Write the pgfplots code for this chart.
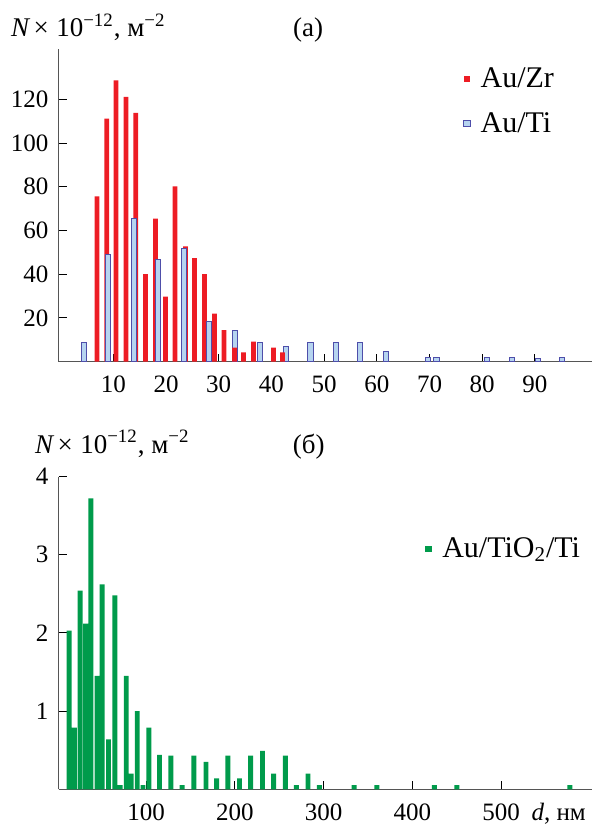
\documentclass[border=0pt]{standalone}
\usepackage{pgfplots}
\pgfplotsset{compat=1.18}
\usepackage{fontspec}
\setmainfont{Liberation Serif}

\definecolor{zrred}{RGB}{237,28,36}
\definecolor{tifill}{RGB}{182,212,240}
\definecolor{tidraw}{RGB}{78,78,170}
\definecolor{tigreen}{RGB}{0,155,75}
\definecolor{axgray}{RGB}{85,85,85}

\newcommand{\tickfont}{\fontsize{12.5}{14}\selectfont}
\newcommand{\labfont}{\fontsize{13.5}{16}\selectfont}
\newcommand{\legfont}{\fontsize{15}{17}\selectfont}

% d (nm) vs N
\pgfplotstableread{
x     y
6.9   75.6
8.75  111.2
10.5  128.7
12.4  121.1
14.25 113.8
16.1  40.0
18.0  65.4
19.9  29.8
21.7  80.2
23.7  52.7
25.4  47.4
27.3  40.0
29.2  22.0
31.0  14.4
34.7  4.3
36.6  9.2
40.4  6.4
}\zrdata
% Zr bars that sit in front of the Ti bars
\pgfplotstableread{
x     y
33.0  6.4
42.1  4.3
}\zrfront
\pgfplotstableread{
x     y
4.4   9.0
9.0   48.9
13.9  65.4
18.5  46.7
23.4  51.6
28.2  18.5
33.1  14.4
37.9  9.0
42.7  6.9
47.4  8.6
52.2  9.0
56.8  8.6
61.7  4.7
69.7  2.0
71.3  2.0
80.9  2.0
85.7  1.8
90.6  1.4
95.1  2.0
}\tidata
\pgfplotstableread{
x      y
13.0   2.03
19.0   0.79
25.6   2.54
31.6   2.12
37.6   3.72
44.7   1.45
50.4   2.62
57.5   0.64
64.6   2.48
70.7   0.055
77.5   1.45
82.9   0.20
89.9   1.00
96.4   0.055
103.0  0.79
115.0  0.44
127.7  0.43
140.6  0.055
153.7  0.43
167.4  0.35
179.5  0.14
192.2  0.43
205.2  0.14
217.8  0.43
231.1  0.49
243.7  0.20
256.8  0.43
269.4  0.055
282.4  0.20
295.2  0.055
334.3  0.055
360.0  0.055
425.0  0.055
450.2  0.055
577.6  0.055
}\tio

\pgfplotsset{
  hist/.style={
    scale only axis, width=266.65pt, height=156.35pt,
    axis x line*=bottom, axis y line*=left,
    axis line style={draw=axgray, line width=0.6pt, -},
    tick align=inside, major tick length=4pt,
    tick style={black, line width=0.5pt},
    ymin=0, clip=false,
    ticklabel style={font=\tickfont},
    /pgf/number format/assume math mode=true,
    xticklabel style={anchor=base, yshift=-15.5pt},
    yticklabel style={anchor=east, inner sep=0pt, xshift=-5pt},
    legend style={draw=none, fill=none, font=\legfont, inner sep=0pt,
      row sep=7pt, anchor=north west},
    legend cell align=left,
  },
  sq/.style={legend image code/.code={
    \path[##1] (0pt,-1.6pt) rectangle (3.2pt,1.6pt);
    \path[draw=none, fill=none] (3.2pt,0pt) -- (6.4pt,0pt);}},
}

\begin{document}
\begin{tikzpicture}
\path[use as bounding box] (-29.35pt,-231.65pt) rectangle (266.65pt,180.85pt);

\begin{axis}[hist,
  xmin=-0.36, xmax=100.83, ymax=143,
  xtick={10,20,...,90},
  ytick={20,40,...,120},
  legend style={at={(0.758,0.955)}},
]
\addplot[ybar, bar shift=0pt, bar width=0.89, fill=zrred, draw=none, sq]
  table[x=x, y=y] {\zrdata};
\addlegendentry{Au/Zr}
\addplot[ybar, bar shift=0pt, bar width=1.0, fill=tifill, draw=tidraw, line width=0.5pt, sq]
  table[x=x, y=y] {\tidata};
\addlegendentry{Au/Ti}
\addplot[ybar, bar shift=0pt, bar width=0.89, fill=zrred, draw=none, forget plot]
  table[x=x, y=y] {\zrfront};

\node[anchor=base west, font=\labfont, xshift=-27.35pt, yshift=6.15pt]
  at (rel axis cs:0,1) {{\itshape N}\,×\;10\textsuperscript{−12}, м\textsuperscript{−2}};
\node[anchor=base, font=\labfont, yshift=6.15pt] at (rel axis cs:0.4675,1) {(a)};
\end{axis}

\begin{axis}[hist, at={(0pt,-213.8pt)},
  xmin=1.35, xmax=602.6, ymax=4,
  xtick={100,200,...,500},
  ytick={1,2,3,4},
  legend style={at={(0.687,0.82)}},
]
\addplot[ybar, bar shift=0pt, bar width=5.6, fill=tigreen, draw=none, sq]
  table[x=x, y=y] {\tio};
\addlegendentry{Au/TiO\textsubscript{2}/Ti}

\node[anchor=base west, font=\labfont, xshift=-15.35pt, yshift=11.65pt]
  at (rel axis cs:0,1) {{\itshape N}\,×\;10\textsuperscript{−12}, м\textsuperscript{−2}};
\node[anchor=base, font=\labfont, yshift=11.65pt] at (rel axis cs:0.469,1) {(б)};
\node[anchor=base, font=\tickfont, yshift=-15.5pt] at (axis cs:565,0) {\textit{d}, нм};
\end{axis}
\end{tikzpicture}
\end{document}
